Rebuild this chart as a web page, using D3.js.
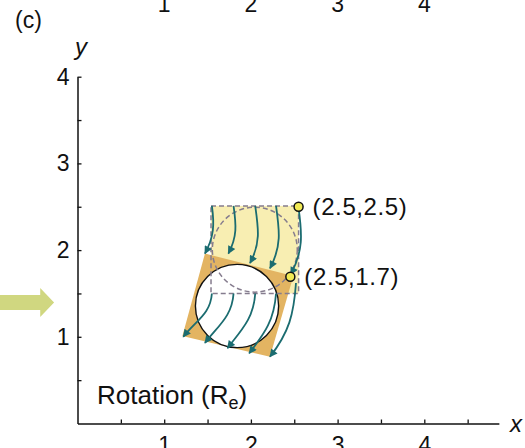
<!doctype html>
<html>
  <head>
    <title>Rotation (Re)</title>
    <style>
      * { margin: 0; padding: 0; }
      body { background: #fff; }
      svg text { font-family: "Liberation Sans", Arial, Helvetica, sans-serif; fill: #111; }
    </style>
    <script src="https://d3js.org/d3.v7.min.js"></script>
  </head>
  <body>
    <div id="chart"></div>
    <script>
    // ---- data (axis units) ----
    const xTicks = [0.5, 1, 1.5, 2, 2.5, 3, 3.5, 4, 4.5];
    const yTicks = [0.5, 1, 1.5, 2, 2.5, 3, 3.5, 4];
    const tickLabels = [1, 2, 3, 4];

    // original square (yellow) and the rotated one (orange)
    const oldSquare = [[1.54, 1.5], [2.55, 2.51]];
    const newSquare = [[1.47, 1.96], [2.49, 1.70], [2.22, 0.77], [1.21, 1.01]];
    const oldCircle = [2.045, 2.005, 0.49];
    const newCircle = [1.84, 1.355, 0.48];

    // flow arrows: top edge and bottom edge
    const topStarts = [[1.55, 2.51], [1.80, 2.51], [2.05, 2.51], [2.29, 2.51], [2.55, 2.48]];
    const topEnds   = [[1.47, 1.96], [1.74, 1.96], [1.99, 1.85], [2.22, 1.79], [2.46, 1.72]];
    const lowStarts = [[1.55, 1.5], [1.80, 1.5], [2.05, 1.5], [2.29, 1.5], [2.52, 1.62]];
    const lowEnds   = [[1.22, 1.0], [1.47, 0.93], [1.73, 0.87], [1.98, 0.81], [2.22, 0.77]];

    const points = [[2.55, 2.5], [2.455, 1.693]];
    const pointLabels = ["(2.5,2.5)", "(2.5,1.7)"];

    // link arrow from the panel on the left
    const linkArrow = [[-0.9, 1.483], [-0.43, 1.483], [-0.43, 1.563], [-0.27, 1.396],
                       [-0.43, 1.229], [-0.43, 1.309], [-0.9, 1.309]];

    const W = 525, H = 448;
    const unit = 86.7;
    const ox = 77.5, oy = 423.5;
    const xMax = 4.86, yMax = 4;

    const x = d3.scaleLinear().domain([0, xMax]).range([ox, ox + xMax * unit]);
    const y = d3.scaleLinear().domain([0, yMax]).range([oy, oy - yMax * unit]);

    const svg = d3.select("#chart").append("svg").attr("width", W).attr("height", H);

    const teal = "#1b6c70";
    svg.append("defs").append("marker")
        .attr("id", "head")
        .attr("viewBox", "0 0 10 10")
        .attr("refX", 9).attr("refY", 5)
        .attr("markerUnits", "userSpaceOnUse")
        .attr("markerWidth", 10).attr("markerHeight", 8)
        .attr("orient", "auto")
      .append("path")
        .attr("d", "M0,0L10,5L0,10z")
        .attr("fill", teal);

    // link arrow
    svg.append("polygon")
        .attr("points", linkArrow.map(d => [x(d[0]), y(d[1])].join(",")).join(" "))
        .attr("fill", "#d0d780");

    // yellow (original) square
    svg.append("rect")
        .attr("x", x(oldSquare[0][0]))
        .attr("y", y(oldSquare[1][1]))
        .attr("width", x(oldSquare[1][0]) - x(oldSquare[0][0]))
        .attr("height", y(oldSquare[0][1]) - y(oldSquare[1][1]))
        .attr("fill", "#f8eeb2");

    // orange rotated square + white circle
    svg.append("polygon")
        .attr("points", newSquare.map(d => [x(d[0]), y(d[1])].join(",")).join(" "))
        .attr("fill", "#e3b462");
    svg.append("circle")
        .attr("cx", x(newCircle[0])).attr("cy", y(newCircle[1]))
        .attr("r", newCircle[2] * unit)
        .attr("fill", "#fff")
        .attr("stroke", "#111").attr("stroke-width", 1.4);

    // dashed outline of the original shape
    const dash = svg.append("g")
        .attr("fill", "none")
        .attr("stroke", "#857c8e")
        .attr("stroke-width", 1.5)
        .attr("stroke-dasharray", "5,3");
    dash.append("rect")
        .attr("x", x(oldSquare[0][0]))
        .attr("y", y(oldSquare[1][1]))
        .attr("width", x(oldSquare[1][0]) - x(oldSquare[0][0]))
        .attr("height", y(oldSquare[0][1]) - y(oldSquare[1][1]));
    dash.append("circle")
        .attr("cx", x(oldCircle[0])).attr("cy", y(oldCircle[1]))
        .attr("r", oldCircle[2] * unit);

    // curved flow arrows (angles from straight down, + = leftwards)
    function flow(s, e, a0, a1) {
      const sx = x(s[0]), sy = y(s[1]), ex = x(e[0]), ey = y(e[1]);
      const L = Math.hypot(ex - sx, ey - sy) * 0.4;
      const p = d3.path();
      p.moveTo(sx, sy);
      p.bezierCurveTo(sx - L * Math.sin(a0), sy + L * Math.cos(a0),
                      ex + L * Math.sin(a1), ey - L * Math.cos(a1), ex, ey);
      return p.toString();
    }
    const rad = Math.PI / 180;
    const arrows = svg.append("g")
        .attr("fill", "none")
        .attr("stroke", teal)
        .attr("stroke-width", 1.8)
        .attr("marker-end", "url(#head)");
    topStarts.forEach((s, i) => {
      arrows.append("path").attr("d", flow(s, topEnds[i], -8 * rad, 28 * rad));
    });
    lowStarts.forEach((s, i) => {
      arrows.append("path").attr("d", flow(s, lowEnds[i], 4 * rad, 38 * rad));
    });

    // points + labels
    svg.selectAll("circle.pt").data(points).join("circle")
        .attr("class", "pt")
        .attr("cx", d => x(d[0])).attr("cy", d => y(d[1]))
        .attr("r", 4.5)
        .attr("fill", "#f1ea55")
        .attr("stroke", "#111").attr("stroke-width", 1.5);
    svg.selectAll("text.pl").data(points).join("text")
        .attr("class", "pl")
        .attr("x", d => x(d[0]) + 14)
        .attr("y", d => y(d[1]) + 8.5)
        .attr("font-size", 24)
        .attr("letter-spacing", 0.6)
        .text((d, i) => pointLabels[i]);

    // axes
    const fmt = d => tickLabels.includes(d) ? d : "";
    const gx = svg.append("g")
        .attr("transform", `translate(0,${oy})`)
        .call(d3.axisBottom(x).tickValues(xTicks).tickFormat(fmt)
          .tickSize(-4).tickSizeOuter(0).tickPadding(13));
    const gy = svg.append("g")
        .attr("transform", `translate(${ox},0)`)
        .call(d3.axisLeft(y).tickValues(yTicks).tickFormat(fmt)
          .tickSize(-4).tickSizeOuter(0).tickPadding(8));
    [gx, gy].forEach(g => {
      g.select(".domain").attr("stroke", "#111").attr("stroke-width", 1.5);
      g.selectAll(".tick line").attr("stroke", "#111").attr("stroke-width", 1.3);
      g.selectAll(".tick text").attr("font-size", 23)
        .attr("font-family", "Liberation Sans, Arial, sans-serif").attr("fill", "#111");
    });

    // axis names
    svg.append("text").attr("x", 510).attr("y", 432)
        .attr("font-size", 24).attr("font-style", "italic").text("x");
    svg.append("text").attr("x", 75).attr("y", 55)
        .attr("font-size", 24).attr("font-style", "italic").text("y");

    // panel caption
    const cap = svg.append("text").attr("x", 97).attr("y", 404).attr("font-size", 26);
    cap.append("tspan").text("Rotation (R");
    cap.append("tspan").attr("font-size", 18).attr("dy", 5).text("e");
    cap.append("tspan").attr("dy", -5).text(")");

    // bits of neighbouring panels
    svg.append("text").attr("x", 15).attr("y", 28).attr("font-size", 23).text("(c)");
    svg.append("text").attr("x", 15).attr("y", 467).attr("font-size", 23)
        .style("fill", "#999").text("(d)");
    svg.selectAll("text.top").data(tickLabels).join("text")
        .attr("class", "top")
        .attr("x", d => x(d)).attr("y", 11.5)
        .attr("text-anchor", "middle")
        .attr("font-size", 23)
        .text(d => d);
    </script>
  </body>
</html>
